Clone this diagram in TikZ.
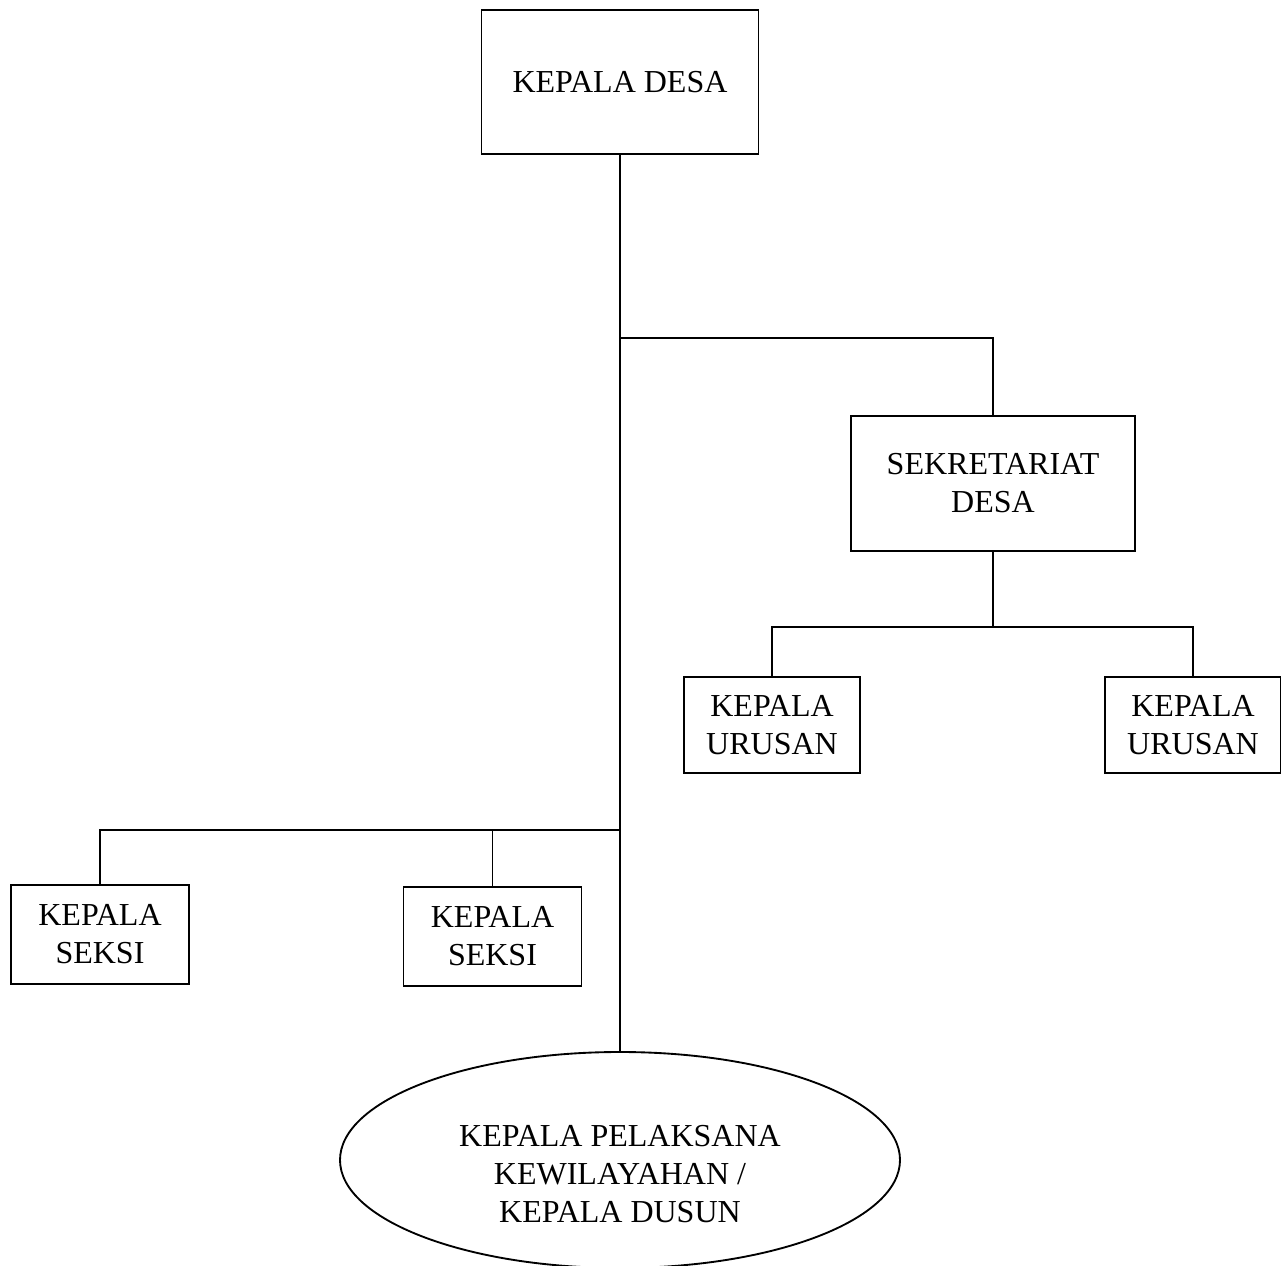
\documentclass[tikz,border=0pt]{standalone}
\usepackage{fontspec}
\setmainfont{Liberation Serif}
\usetikzlibrary{shapes.geometric}
\tikzset{
  every node/.style={font=\fontsize{24}{28.5}\selectfont, align=center, inner sep=0pt},
  jabatan/.style={draw, line width=1.4pt},
  garis/.style={line width=1.4pt},
}

\begin{document}
\begin{tikzpicture}[x=0.75pt, y=-0.75pt]
  \useasboundingbox (0, 0) rectangle (1281, 1266);

  % ---------------------------------------------------------------- kepala desa
  \node[jabatan, minimum width=207.75pt, minimum height=108pt] (desa) at (620, 82) {KEPALA DESA};

  % ---------------------------------------------------------------- sekretariat
  \node[jabatan, minimum width=213pt, minimum height=101.25pt] (sekretariat) at (993, 483.5)
    {SEKRETARIAT\\ DESA};
  \node[jabatan, minimum width=132pt, minimum height=72pt] (urusanA) at (772, 725) {KEPALA\\ URUSAN};
  \node[jabatan, minimum width=132pt, minimum height=72pt] (urusanB) at (1193, 725) {KEPALA\\ URUSAN};

  % ---------------------------------------------------------------- seksi
  \node[jabatan, minimum width=133.5pt, minimum height=74.25pt] (seksiA) at (100, 934.5) {KEPALA\\ SEKSI};
  \node[jabatan, minimum width=133.5pt, minimum height=74.25pt] (seksiB) at (492.5, 936.5) {KEPALA\\ SEKSI};

  % ---------------------------------------------------------------- kewilayahan
  \node[jabatan, ellipse, minimum width=420pt, minimum height=162pt] (dusun) at (620, 1160) {};
  \node (dusunText) at (620, 1174) {KEPALA PELAKSANA\\ KEWILAYAHAN /\\ KEPALA DUSUN};

  % ---------------------------------------------------------------- garis komando
  \coordinate (cabangSekretariat) at (620, 338);
  \coordinate (cabangSeksi) at (620, 830);
  \coordinate (cabangUrusan) at (993, 627);

  \draw[garis] (desa.south) -- (dusun.north);
  \draw[garis] (cabangSekretariat) -| (sekretariat.north);
  \draw[garis] (sekretariat.south) -- (cabangUrusan);
  \draw[garis] (cabangUrusan) -| (urusanA.north);
  \draw[garis] (cabangUrusan) -| (urusanB.north);
  \draw[garis] (cabangSeksi) -| (seksiA.north);
  \draw[garis] (seksiB.north) -- (seksiB.north |- cabangSeksi);

\end{tikzpicture}
\end{document}
